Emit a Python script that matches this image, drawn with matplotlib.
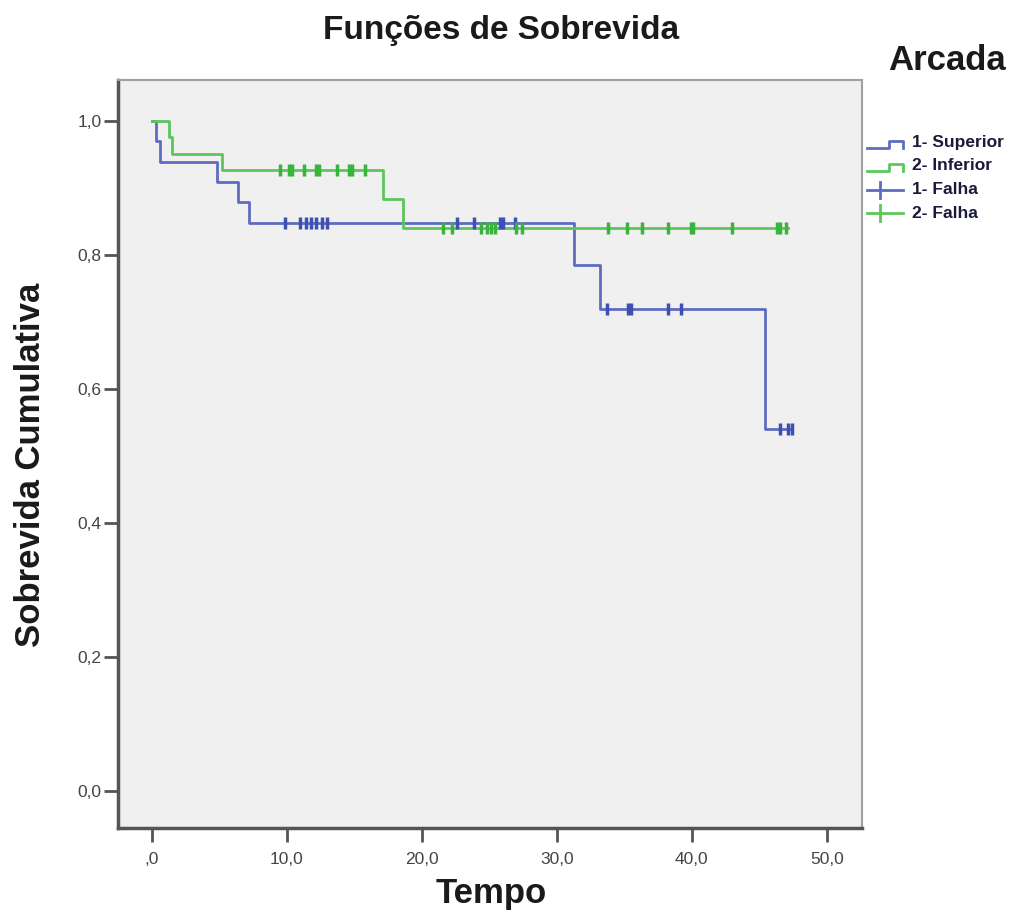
"""
Kaplan-Meier curves - Funções de Sobrevida por Arcada
"""

import matplotlib
matplotlib.use("Agg")
import matplotlib.pyplot as plt
import numpy as np
from matplotlib.lines import Line2D

plt.rcParams['font.family'] = ['Liberation Sans', 'DejaVu Sans']

############   DATA   #############
# 1- Superior : step times / survival levels
sup_times = [0, 0.3, 0.6, 4.8, 6.4, 7.2, 31.3, 33.2, 45.4]
sup_surv = [1.0, 0.970, 0.939, 0.909, 0.879, 0.848, 0.785, 0.720, 0.540]
sup_end = 47.4
sup_censor = [9.9, 11.0, 11.4, 11.8, 12.2, 12.6, 13.0, 22.6, 23.9, 25.8, 26.0,
              26.9, 33.7, 35.3, 35.5, 38.2, 39.2, 46.5, 47.1, 47.4]

# 2- Inferior
inf_times = [0, 1.3, 1.5, 5.2, 17.1, 18.6]
inf_surv = [1.0, 0.976, 0.951, 0.927, 0.884, 0.840]
inf_end = 47.1
inf_censor = [9.5, 10.2, 10.4, 11.3, 12.2, 12.4, 13.7, 14.6, 14.8, 15.8,
              21.6, 22.2, 24.4, 24.8, 25.1, 25.4, 27.0, 27.4, 33.8, 35.2,
              36.3, 38.2, 39.9, 40.1, 43.0, 46.3, 46.5, 47.0]

x_ticks = [0, 10, 20, 30, 40, 50]
x_labels = [",0", "10,0", "20,0", "30,0", "40,0", "50,0"]
y_ticks = [0.0, 0.2, 0.4, 0.6, 0.8, 1.0]
y_labels = ["0,0", "0,2", "0,4", "0,6", "0,8", "1,0"]

legend_labels = ["1- Superior", "2- Inferior", "1- Falha", "2- Falha"]

blue_line, blue_mark = "#5d6cc0", "#4050b2"
green_line, green_mark = "#5cc65c", "#38b43c"

W, H = 1014, 918
fig = plt.figure(figsize=(W / 100, H / 100), dpi=100)
ax = fig.add_axes([118 / W, 1 - 828 / H, (862 - 118) / W, (828 - 80) / H])
ax.set_facecolor("#f0f0f0")


def surv_at(t, times, surv):
    idx = np.searchsorted(times, t, side="right") - 1
    return np.array(surv)[idx]


for times, surv, end, lc in [(sup_times, sup_surv, sup_end, blue_line),
                             (inf_times, inf_surv, inf_end, green_line)]:
    xs = list(times) + [end]
    ys = list(surv) + [surv[-1]]
    ax.step(xs, ys, where="post", color=lc, lw=2.0, zorder=3)

for cens, times, surv, mc in [(sup_censor, sup_times, sup_surv, blue_mark),
                              (inf_censor, inf_times, inf_surv, green_mark)]:
    ax.plot(cens, surv_at(cens, times, surv), ls="none", marker="|",
            ms=9, mew=2.5, color=mc, zorder=4)

ax.set_xlim(-2.5, 52.6)
ax.set_ylim(-0.055, 1.061)
ax.set_xticks(x_ticks)
ax.set_xticklabels(x_labels)
ax.set_yticks(y_ticks)
ax.set_yticklabels(y_labels)
ax.tick_params(length=10, width=2, color="#555555", labelsize=12.5,
               labelcolor="#444444")
ax.tick_params(axis="x", pad=7)
ax.tick_params(axis="y", pad=2)

for side in ["left", "bottom"]:
    ax.spines[side].set_color("#555555")
    ax.spines[side].set_linewidth(2.5)
for side in ["top", "right"]:
    ax.spines[side].set_color("#a0a0a0")
    ax.spines[side].set_linewidth(1.5)

fig.text(491 / W, 1 - 893 / H, "Tempo", fontsize=25, fontweight="bold",
         color="#1a1a1a", ha="center", va="center")
fig.text(31 / W, 1 - 465 / H, "Sobrevida Cumulativa", fontsize=25,
         fontweight="bold", color="#1a1a1a", ha="center", va="center",
         rotation=90)
fig.text(501 / W, 1 - 31 / H, "Funções de Sobrevida", fontsize=24,
         fontweight="bold", color="#1a1a1a", ha="center", va="center")
fig.text(947 / W, 1 - 60 / H, "Arcada", fontsize=25, fontweight="bold",
         color="#1a1a1a", ha="center", va="center")

# legend, drawn by hand
def fx(px):
    return px / W


def fy(py):
    return 1 - py / H


rows = [143, 166, 190, 213]
for i, (lab, col) in enumerate(zip(legend_labels, [blue_line, green_line, blue_line, green_line])):
    y = rows[i]
    if i < 2:
        xs = [867, 889, 889, 903, 903]
        ys = [y + 5, y + 5, y - 2, y - 2, y + 5]
        fig.add_artist(Line2D([fx(v) for v in xs], [fy(v) for v in ys],
                              color=col, lw=2))
    else:
        fig.add_artist(Line2D([fx(867), fx(903)], [fy(y), fy(y)], color=col, lw=2))
        fig.add_artist(Line2D([fx(880), fx(880)], [fy(y - 8), fy(y + 8)],
                              color=col, lw=2))
    fig.text(fx(912), fy(y), lab, fontsize=12.5, fontweight="bold",
             color="#1a1a3a", ha="left", va="center")

fig.savefig("out.png", dpi=100, facecolor="white")
